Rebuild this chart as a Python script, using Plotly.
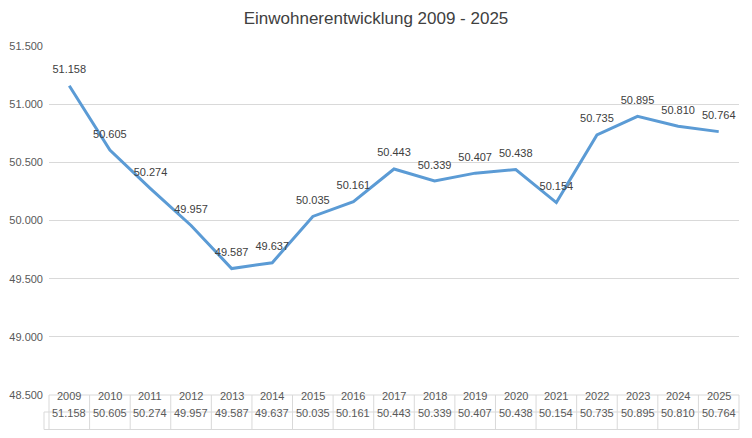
import plotly.graph_objects as go

years = [2009, 2010, 2011, 2012, 2013, 2014, 2015, 2016, 2017,
         2018, 2019, 2020, 2021, 2022, 2023, 2024, 2025]
einwohner = [51158, 50605, 50274, 49957, 49587, 49637, 50035, 50161, 50443,
             50339, 50407, 50438, 50154, 50735, 50895, 50810, 50764]
title_text = "Einwohnerentwicklung 2009 - 2025"
y_ticks = [48500, 49000, 49500, 50000, 50500, 51000, 51500]

def de(v):
    return f"{v:,}".replace(",", ".")

labels = [de(v) for v in einwohner]

# page body has an 8px margin; figure sized to fit inside the 752x438 window
OFF = 8
W, H = 752 - 2 * OFF, 438 - 2 * OFF
L, R, T, B = 49 - OFF, 5, 46 - OFF, 35
plot_h = H - T - B
plot_w = W - L - R

FONT = "Liberation Sans"
LINE = "#D9D9D9"
TXT = "#595959"

fig = go.Figure()
fig.add_trace(go.Scatter(
    x=years, y=einwohner, mode="lines+markers+text",
    line=dict(color="#5B9BD5", width=3),
    marker=dict(size=14, color="rgba(0,0,0,0)"),
    text=labels, textposition="top center",
    textfont=dict(family=FONT, size=11, color="#404040"),
    cliponaxis=False, hoverinfo="skip", showlegend=False,
))

shapes = []
annotations = []
n = len(years)
bottom_px = H - B  # figure pixel of plot bottom
row1 = -((412 - OFF) - bottom_px) / plot_h
row2 = -((429.5 - OFF) - bottom_px) / plot_h
left_key = -(49 - 44) / plot_w

shapes.append(dict(type="line", xref="paper", yref="paper", x0=0, x1=1, y0=0, y1=0,
                   line=dict(color=LINE, width=1)))
for yy in (row1, row2):
    shapes.append(dict(type="line", xref="paper", yref="paper", x0=left_key, x1=1,
                       y0=yy, y1=yy, line=dict(color=LINE, width=1)))
for i in range(n + 1):
    shapes.append(dict(type="line", xref="paper", yref="paper", x0=i / n, x1=i / n,
                       y0=0, y1=row2, line=dict(color=LINE, width=1)))
shapes.append(dict(type="line", xref="paper", yref="paper", x0=left_key, x1=left_key,
                   y0=row1, y1=row2, line=dict(color=LINE, width=1)))

for yr, lab in zip(years, labels):
    annotations.append(dict(x=yr, y=row1 / 2, xref="x", yref="paper", text=str(yr),
                            showarrow=False, font=dict(family=FONT, size=11, color=TXT)))
    annotations.append(dict(x=yr, y=(row1 + row2) / 2, xref="x", yref="paper", text=lab,
                            showarrow=False, font=dict(family=FONT, size=11, color=TXT)))

fig.update_layout(
    width=W, height=H,
    margin=dict(l=L, r=R, t=T, b=B, autoexpand=False),
    paper_bgcolor="white", plot_bgcolor="white",
    separators=",.",
    title=dict(text=title_text, x=(376 - OFF) / W, xanchor="center",
               y=1 - (18 - OFF) / H, yanchor="middle",
               font=dict(family=FONT, size=17, color="#404040")),
    xaxis=dict(range=[years[0] - 0.5, years[-1] + 0.5], showticklabels=False,
               showgrid=False, zeroline=False, showline=False, fixedrange=True,
               automargin=False),
    yaxis=dict(range=[y_ticks[0], y_ticks[-1]], tickvals=y_ticks, tickformat=",d",
               showgrid=True, gridcolor=LINE, gridwidth=1, zeroline=False, showline=False,
               ticks="", ticklabelstandoff=5, automargin=False,
               tickfont=dict(family=FONT, size=11, color=TXT)),
    shapes=shapes, annotations=annotations,
)

fig.write_html("out.html")
